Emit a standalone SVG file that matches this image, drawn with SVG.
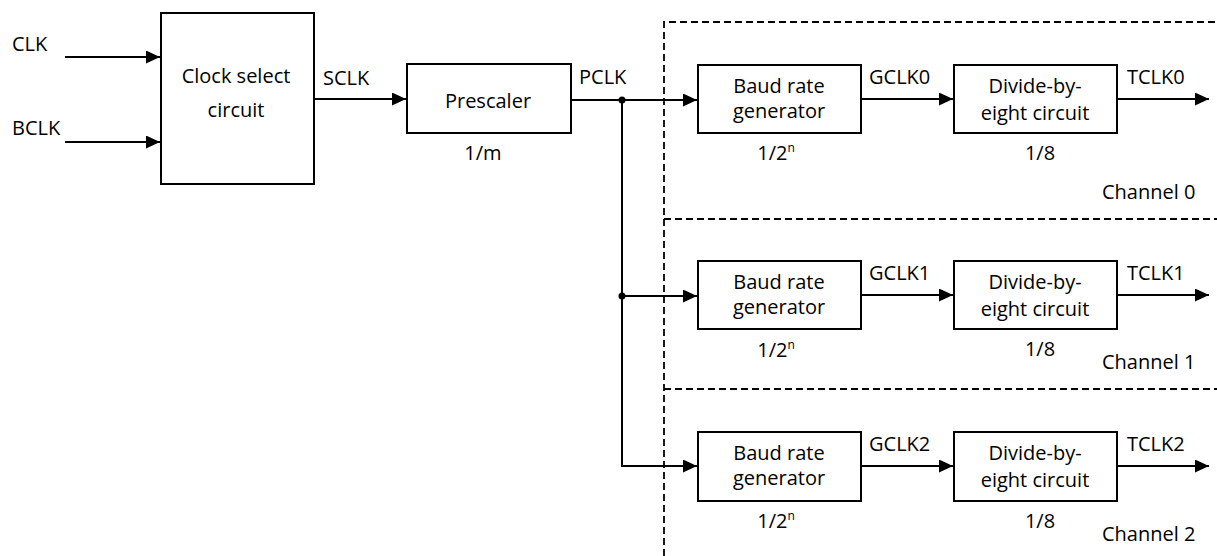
<svg xmlns="http://www.w3.org/2000/svg" width="1217" height="556" viewBox="0 0 1217 556">
<style>
text{font-family:"Open Sans","Noto Sans","Liberation Sans",sans-serif;font-size:20px;fill:#000}
.c{text-anchor:middle}
.box{fill:#fff;stroke:#000;stroke-width:2}
.w{fill:none;stroke:#000;stroke-width:2}
.d{fill:none;stroke:#000;stroke-width:1.8;stroke-dasharray:7 4}
.sup{font-size:12px}
</style>
<defs>
<marker id="ah" markerUnits="userSpaceOnUse" markerWidth="15" markerHeight="13" refX="14" refY="6.5" orient="auto">
<path d="M0,0 L14,6.5 L0,13 Z" fill="#000"/>
</marker>
</defs>
<g id="channel-frames">
<path class="d" d="M664,556 V22 H1217"/>
<path class="d" d="M664,219 H1217"/>
<path class="d" d="M664,389 H1217"/>
</g>
<g id="connectors">
<path class="w" d="M65,57 H160" marker-end="url(#ah)"/>
<path class="w" d="M65,142 H160" marker-end="url(#ah)"/>
<path class="w" d="M314,99 H406" marker-end="url(#ah)"/>
<path class="w" d="M571,100 H697" marker-end="url(#ah)"/>
<path class="w" d="M622,100 V466 H697" marker-end="url(#ah)"/>
<path class="w" d="M622,296 H697" marker-end="url(#ah)"/>
<path class="w" d="M861,99 H953" marker-end="url(#ah)"/>
<path class="w" d="M1117,99 H1209" marker-end="url(#ah)"/>
<path class="w" d="M861,295 H953" marker-end="url(#ah)"/>
<path class="w" d="M1117,295 H1209" marker-end="url(#ah)"/>
<path class="w" d="M861,466 H953" marker-end="url(#ah)"/>
<path class="w" d="M1117,466 H1209" marker-end="url(#ah)"/>
<circle cx="622" cy="100" r="3.5" fill="#000"/>
<circle cx="622" cy="296" r="3.5" fill="#000"/>
<text x="12" y="51">CLK</text>
<text x="12" y="135">BCLK</text>
<text x="323" y="85">SCLK</text>
<text x="579" y="84">PCLK</text>
<text x="869" y="84">GCLK0</text>
<text x="1127" y="84">TCLK0</text>
<text x="869" y="280">GCLK1</text>
<text x="1127" y="280">TCLK1</text>
<text x="869" y="451">GCLK2</text>
<text x="1127" y="451">TCLK2</text>
</g>
<g id="clock-select">
<rect class="box" x="161" y="13" width="153" height="171"/>
<text class="c" x="236" y="83">Clock select</text>
<text class="c" x="236" y="117">circuit</text>
</g>
<g id="prescaler">
<rect class="box" x="407" y="64" width="164" height="69"/>
<text class="c" x="488" y="108">Prescaler</text>
<text class="c" x="483" y="160">1/m</text>
</g>
<g id="baud0">
<rect class="box" x="698" y="65" width="163" height="68"/>
<text class="c" x="779" y="93">Baud rate</text>
<text class="c" x="779" y="118">generator</text>
<text class="c" x="776" y="160">1/2<tspan class="sup" dy="-8">n</tspan></text>
</g>
<g id="divide0">
<rect class="box" x="954" y="65" width="163" height="68"/>
<text class="c" x="1035" y="93">Divide-by-</text>
<text class="c" x="1035" y="120">eight circuit</text>
<text class="c" x="1040" y="160">1/8</text>
</g>
<g id="channel0-label"><text x="1102" y="199">Channel 0</text></g>
<g id="baud1">
<rect class="box" x="698" y="261" width="163" height="68"/>
<text class="c" x="779" y="289">Baud rate</text>
<text class="c" x="779" y="314">generator</text>
<text class="c" x="776" y="357">1/2<tspan class="sup" dy="-8">n</tspan></text>
</g>
<g id="divide1">
<rect class="box" x="954" y="261" width="163" height="68"/>
<text class="c" x="1035" y="289">Divide-by-</text>
<text class="c" x="1035" y="316">eight circuit</text>
<text class="c" x="1040" y="356">1/8</text>
</g>
<g id="channel1-label"><text x="1102" y="369">Channel 1</text></g>
<g id="baud2">
<rect class="box" x="698" y="432" width="163" height="69"/>
<text class="c" x="779" y="460">Baud rate</text>
<text class="c" x="779" y="485">generator</text>
<text class="c" x="776" y="528">1/2<tspan class="sup" dy="-8">n</tspan></text>
</g>
<g id="divide2">
<rect class="box" x="954" y="432" width="163" height="69"/>
<text class="c" x="1035" y="460">Divide-by-</text>
<text class="c" x="1035" y="487">eight circuit</text>
<text class="c" x="1040" y="528">1/8</text>
</g>
<g id="channel2-label"><text x="1102" y="541">Channel 2</text></g>
</svg>
